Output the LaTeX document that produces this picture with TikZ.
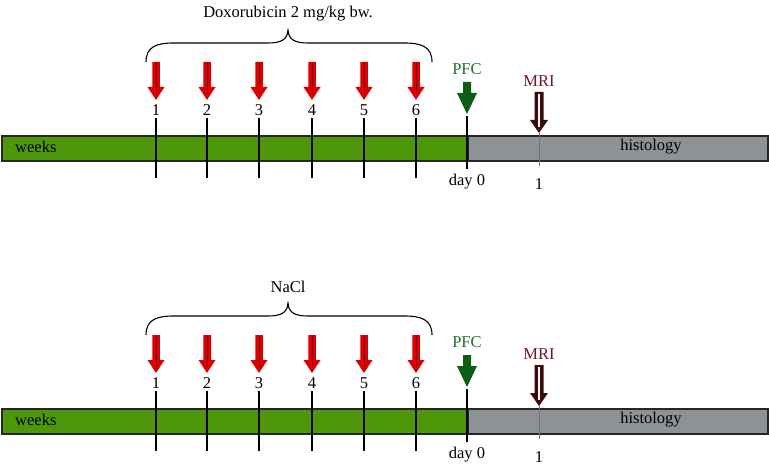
\documentclass[tikz,border=0pt]{standalone}
\usepackage{fontspec}
\setmainfont{Liberation Serif}
\definecolor{barGreen}{RGB}{78,150,10}
\definecolor{barGray}{RGB}{143,146,148}
\definecolor{arrRed}{RGB}{222,0,0}
\definecolor{arrGreen}{RGB}{12,94,20}
\definecolor{pfcText}{RGB}{30,110,40}
\definecolor{mriDark}{RGB}{62,10,10}
\definecolor{mriText}{RGB}{110,25,30}
\tikzset{
  barbox/.style={draw=black!85, line width=1.5pt, minimum height=25pt, inner sep=0pt, anchor=west},
  lbl/.style={inner sep=0pt, font=\fontsize{16.5}{19}\selectfont},
  tickline/.style={draw=black, line width=1.1pt},
  mritick/.style={draw=black!55, line width=1pt},
  bracestyle/.style={draw=black, line width=1.1pt},
}
% block arrow: x, top, headtop, tip, shaft width, head width
\newcommand\blockarr[6]{%
  (#1-#5/2,#2) -- (#1+#5/2,#2) -- (#1+#5/2,#3) -- (#1+#6/2,#3) -- (#1,#4) -- (#1-#6/2,#3) -- (#1-#5/2,#3) -- cycle}
\newcommand\timelinepanel[3]{%
\begin{scope}[yshift=#2, name prefix=#1]
  % bars
  \node[barbox, fill=barGreen, minimum width=466pt] (green) at (1,148.5) {};
  \node[barbox, fill=barGray, minimum width=300pt] (gray) at (467,148.5) {};
  \node[lbl, anchor=west] (weeks) at (15,147) {weeks};
  \node[lbl] (histo) at (651,147) {histology};
  % brace
  \draw[bracestyle] (146,62) .. controls (146,47) and (156,43) .. (174,43) -- (268,43)
     .. controls (282,43) and (288,39) .. (288,29)
     .. controls (288,39) and (294,43) .. (308,43) -- (404,43)
     .. controls (422,43) and (432,47) .. (432,62);
  \node[lbl] (title) at (288,14) {#3};
  % week ticks, arrows, labels
  \foreach \x/\n in {156/1,207/2,259/3,312/4,364/5,416/6}{
    \coordinate (ta\n) at (\x,118);
    \coordinate (tb\n) at (\x,178);
    \draw[tickline] (ta\n) -- (tb\n);
    \node[lbl] (wk\n) at (\x,110) {\n};
    \fill[arrRed] \blockarr{\x}{62}{87}{100}{7.5}{17};
    \draw[black!50!arrRed, line width=0.6pt] (\x,63) -- (\x,94);
  }
  % day 0
  \coordinate (d0a) at (467,116);
  \coordinate (d0b) at (467,169);
  \draw[draw=black, line width=1.6pt] (d0a) -- (d0b);
  \node[lbl] (day0) at (467,182) {day 0};
  \fill[arrGreen] \blockarr{467}{82}{93}{114}{8}{20};
  \node[lbl, text=pfcText] (pfc) at (467,69) {PFC};
  % MRI
  \coordinate (ma) at (539,133);
  \coordinate (mb) at (539,166);
  \draw[mritick] (ma) -- (mb);
  \node[lbl] (m1) at (539,184) {1};
  \fill[mriDark] \blockarr{539}{92}{120}{133}{9}{18};
  \draw[white, line width=1.2pt] (539,94) -- (539,127);
  \node[lbl, text=mriText] (mri) at (539,81) {MRI};
\end{scope}}
\begin{document}
\begin{tikzpicture}[x=1pt,y=-1pt]
\useasboundingbox (0,0) rectangle (769,468);
\timelinepanel{top-}{0pt}{Doxorubicin 2 mg/kg bw.}
\timelinepanel{bot-}{-273pt}{NaCl}
\end{tikzpicture}
\end{document}
